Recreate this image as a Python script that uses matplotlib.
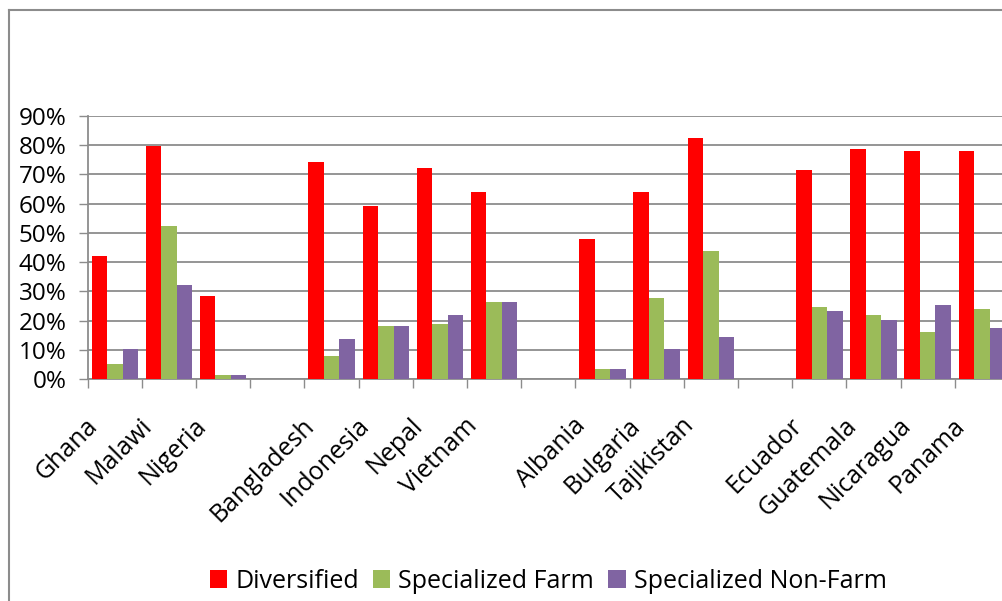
import numpy as np
import matplotlib.pyplot as plt
from matplotlib.lines import Line2D

plt.rcParams['font.family'] = ['Open Sans', 'DejaVu Sans']

# blank entries separate the regional groups
countries = ['Ghana', 'Malawi', 'Nigeria', '',
             'Bangladesh', 'Indonesia', 'Nepal', 'Vietnam', '',
             'Albania', 'Bulgaria', 'Tajikistan', '',
             'Ecuador', 'Guatemala', 'Nicaragua', 'Panama']
nan = np.nan
diversified = [42.2, 79.8, 28.4, nan,
               74.3, 59.2, 72.3, 64.0, nan,
               47.9, 64.0, 82.5, nan,
               71.6, 78.8, 78.1, 78.1]
spec_farm = [5.1, 52.4, 1.4, nan,
             7.9, 18.2, 18.8, 26.4, nan,
             3.4, 27.7, 43.8, nan,
             24.7, 21.9, 16.1, 24.0]
spec_nonfarm = [10.3, 32.2, 1.4, nan,
                13.7, 18.2, 21.9, 26.4, nan,
                3.4, 10.3, 14.4, nan,
                23.3, 20.2, 25.3, 17.5]
yticks = [0, 10, 20, 30, 40, 50, 60, 70, 80, 90]

W, H = 1002, 601
fig = plt.figure(figsize=(W / 100, H / 100), dpi=100)
ax = fig.add_axes([87.7 / W, (H - 379) / H, (1009 - 87.7) / W, 263 / H])

x = np.arange(len(countries))
w = 0.286
ax.bar(x - w, diversified, w, color='#FF0000', label='Diversified', zorder=3)
ax.bar(x, spec_farm, w, color='#9BBB59', label='Specialized Farm', zorder=3)
ax.bar(x + w, spec_nonfarm, w, color='#8064A2', label='Specialized Non-Farm', zorder=3)

ax.set_xlim(-0.5, len(countries) - 0.5)
ax.set_ylim(0, 90)
ax.set_yticks(yticks, [f'{v}%' for v in yticks], fontsize=17.5)
ax.yaxis.grid(True, color='#8C8C8C', lw=1.3, zorder=0)

# slanted names sit a little left of each group centre
ax.set_xticks(x - 0.38, countries, fontsize=18, rotation=45, ha='right',
              va='center', rotation_mode='anchor')
ax.set_xticks(np.arange(len(countries) + 1) - 0.5, minor=True)
ax.tick_params(axis='x', which='major', length=0, pad=31)
ax.tick_params(axis='x', which='minor', length=6.5, color='#8C8C8C', width=1)
ax.tick_params(axis='y', length=6.3, color='#8C8C8C', width=1, pad=9)

for s in ['top', 'right']:
    ax.spines[s].set_visible(False)
for s in ['left', 'bottom']:
    ax.spines[s].set_color('#8C8C8C')
    ax.spines[s].set_linewidth(1.3)

# chart area border
fig.add_artist(Line2D([9 / W, 9 / W], [0, 1 - 10 / H], color='#8C8C8C', lw=1.5))
fig.add_artist(Line2D([9 / W, 1], [1 - 10 / H, 1 - 10 / H], color='#8C8C8C', lw=1.5))

fig.legend(loc='center', bbox_to_anchor=(548 / W, 1 - 581 / H), ncol=3,
           frameon=False, fontsize=18, handlelength=0.7, handleheight=0.7,
           handletextpad=0.32, columnspacing=0.56)

fig.savefig('out.png', dpi=100)
